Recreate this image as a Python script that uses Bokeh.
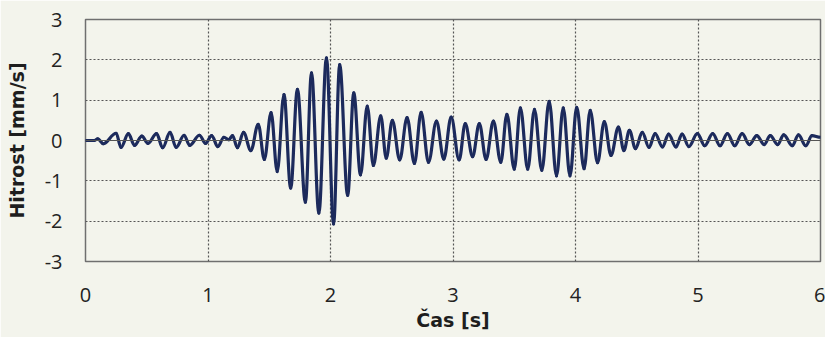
from bokeh.plotting import figure
from bokeh.models import Range1d, FixedTicker, Span
from bokeh.embed import file_html
from bokeh.resources import INLINE

# Extrema of the velocity signal (time [s], velocity [mm/s])
t_ext = [0.00, 0.07, 0.10, 0.145, 0.25, 0.29, 0.35, 0.40, 0.46, 0.51, 0.58, 0.63, 0.69, 0.74,
         0.805, 0.85, 0.93, 0.98, 1.03, 1.08, 1.13, 1.17, 1.20, 1.24, 1.29, 1.35, 1.41, 1.46,
         1.515, 1.565, 1.62, 1.675, 1.73, 1.795, 1.845, 1.905, 1.967, 2.025, 2.075, 2.14,
         2.19, 2.245, 2.30, 2.35, 2.41, 2.455, 2.505, 2.565, 2.625, 2.685, 2.74, 2.80,
         2.865, 2.925, 2.985, 3.05, 3.10, 3.16, 3.215, 3.27, 3.33, 3.39, 3.44, 3.50,
         3.55, 3.61, 3.665, 3.725, 3.785, 3.845, 3.90, 3.955, 4.01, 4.07, 4.12, 4.18,
         4.235, 4.29, 4.35, 4.395, 4.44, 4.49, 4.545, 4.60, 4.65, 4.71, 4.76, 4.82,
         4.87, 4.925, 4.995, 5.055, 5.12, 5.18, 5.24, 5.30, 5.36, 5.42, 5.48, 5.54,
         5.59, 5.65, 5.70, 5.77, 5.82, 5.88, 5.93, 6.00]
v_ext = [0.00, 0.00, 0.04, -0.08, 0.18, -0.17, 0.17, -0.12, 0.11, -0.07, 0.17, -0.18, 0.20, -0.17,
         0.13, -0.12, 0.13, -0.07, 0.12, -0.15, 0.08, 0.02, 0.12, -0.18, 0.20, -0.25, 0.40, -0.47,
         0.69, -0.77, 1.14, -1.18, 1.27, -1.53, 1.68, -1.80, 2.05, -2.07, 1.88, -1.36,
         1.18, -0.85, 0.85, -0.62, 0.61, -0.44, 0.50, -0.48, 0.57, -0.57, 0.70, -0.54,
         0.48, -0.46, 0.58, -0.48, 0.42, -0.40, 0.42, -0.47, 0.48, -0.54, 0.65, -0.71,
         0.81, -0.71, 0.77, -0.74, 0.97, -0.875, 0.81, -0.875, 0.82, -0.70, 0.75, -0.55,
         0.47, -0.37, 0.33, -0.25, 0.25, -0.20, 0.20, -0.17, 0.17, -0.16, 0.16, -0.16,
         0.16, -0.15, 0.17, -0.13, 0.17, -0.13, 0.17, -0.13, 0.17, -0.10, 0.12, -0.10,
         0.12, -0.10, 0.14, -0.13, 0.14, -0.13, 0.12, 0.08]

x_ticks = [0, 1, 2, 3, 4, 5, 6]
y_ticks = [-3, -2, -1, 0, 1, 2, 3]
x_title = "Čas [s]"
y_title = "Hitrost [mm/s]"

BG = "#f3f4ec"
LINE = "#1c2a5c"

p = figure(width=825, height=337, output_backend="svg", toolbar_location=None,
           x_range=Range1d(0, 6), y_range=Range1d(-3, 3),
           min_border_left=85, min_border_right=5, min_border_top=19, min_border_bottom=76,
           background_fill_color=BG, border_fill_color=BG)

p.outline_line_color = "#6f6f6f"
p.outline_line_width = 1.5

for g, ticks in ((p.xgrid[0], x_ticks), (p.ygrid[0], y_ticks)):
    g.ticker = FixedTicker(ticks=ticks)
    g.grid_line_color = "#555555"
    g.grid_line_dash = "2 2"
    g.grid_line_width = 1.2

p.add_layout(Span(location=0, dimension="width", line_color="#555555", line_width=1.2))

# smooth half-wave segments between consecutive extrema
k = 0.364
x0 = t_ext[:-1]
x1 = t_ext[1:]
y0 = v_ext[:-1]
y1 = v_ext[1:]
cx0 = [a + k * (b - a) for a, b in zip(x0, x1)]
cx1 = [b - k * (b - a) for a, b in zip(x0, x1)]
p.bezier(x0=x0, y0=y0, x1=x1, y1=y1, cx0=cx0, cy0=y0, cx1=cx1, cy1=y1,
         line_color=LINE, line_width=3.2, line_cap="round")

for ax, ticks in ((p.xaxis[0], x_ticks), (p.yaxis[0], y_ticks)):
    ax.ticker = FixedTicker(ticks=ticks)
    ax.major_label_overrides = {t: str(t) for t in ticks}
    ax.axis_line_color = None
    ax.major_tick_line_color = None
    ax.minor_tick_line_color = None
    ax.major_label_text_font = "Open Sans"
    ax.major_label_text_font_size = "20px"
    ax.major_label_text_color = "#222222"
    ax.axis_label_text_font = "DejaVu Sans"
    ax.axis_label_text_font_style = "bold"
    ax.axis_label_text_font_size = "19px"
    ax.axis_label_text_color = "#1e1e1e"

p.xaxis[0].axis_label = x_title
p.xaxis[0].major_label_standoff = 20
p.xaxis[0].axis_label_standoff = 4
p.yaxis[0].axis_label = y_title
p.yaxis[0].major_label_standoff = 17
p.yaxis[0].axis_label_standoff = 14

open("out.html", "w").write(file_html(p, INLINE))
